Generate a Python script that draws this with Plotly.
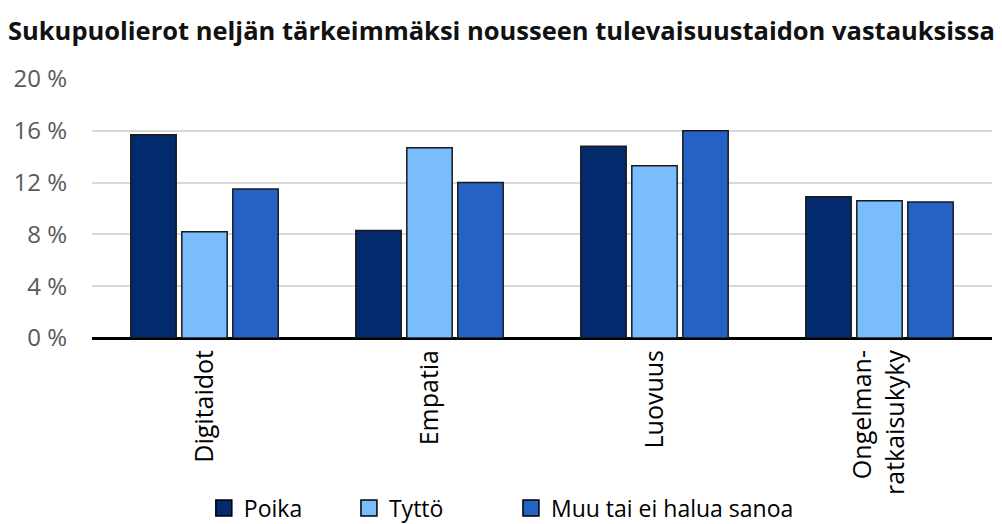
import plotly.graph_objects as go

categories = ["Digitaidot", "Empatia", "Luovuus", "Ongelman-<br>ratkaisukyky"]
poika = [15.7, 8.3, 14.8, 10.9]
tytto = [8.2, 14.7, 13.3, 10.6]
muu = [11.5, 12.0, 16.0, 10.5]
series_names = ["Poika", "Tyttö", "Muu tai ei halua sanoa"]
colors = ["#022a6c", "#79bdfd", "#2662c4"]
tick_vals = [0, 4, 8, 12, 16, 20]
tick_text = ["0 %", "4 %", "8 %", "12 %", "16 %", "20 %"]

FONT = "Open Sans"
legend_ids = ["legend", "legend2", "legend3"]
legend_x = [0.197, 0.343, 0.506]

fig = go.Figure()
for name, vals, col in zip(series_names, [poika, tytto, muu], colors):
    fig.add_trace(go.Bar(
        x=categories, y=vals, name=name, showlegend=False,
        marker=dict(color=col, line=dict(color="#1a1a1a", width=1.5)),
    ))
for name, col, lid in zip(series_names, colors, legend_ids):
    fig.add_trace(go.Scatter(
        x=[None], y=[None], name=name, mode="markers", legend=lid,
        marker=dict(symbol="square", size=16, color=col, line=dict(color="#000000", width=1.5)),
    ))

legend_common = dict(
    orientation="h", xref="container", yref="container",
    y=0.031, yanchor="middle", xanchor="left",
    font=dict(family=FONT, size=23, color="#000000"),
    bgcolor="rgba(0,0,0,0)", itemsizing="trace",
)

fig.update_layout(
    width=994, height=516,
    paper_bgcolor="white", plot_bgcolor="white",
    margin=dict(l=84, r=10, t=71, b=186),
    barmode="group", bargap=0.32, bargroupgap=0.11,
    title=dict(
        text="<b>Sukupuolierot neljän tärkeimmäksi nousseen tulevaisuustaidon vastauksissa</b>",
        x=0.0, xanchor="left", y=0.955, yanchor="middle",
        font=dict(family=FONT, size=25.5, color="#111111"),
    ),
    font=dict(family=FONT),
    showlegend=True,
    legend=dict(x=legend_x[0], **legend_common),
    legend2=dict(x=legend_x[1], **legend_common),
    legend3=dict(x=legend_x[2], **legend_common),
    xaxis=dict(
        tickangle=-90, tickfont=dict(family=FONT, size=25, color="#000000"),
        showline=False, ticks="", showgrid=False, automargin=False,
        ticklabelstandoff=6,
    ),
    yaxis=dict(
        range=[0, 20], tickvals=tick_vals, ticktext=tick_text,
        tickfont=dict(family=FONT, size=24, color="#595959"),
        showgrid=True, gridcolor="#d9d9d9", gridwidth=1.5,
        zeroline=True, zerolinecolor="#000000", zerolinewidth=3,
        showline=False, ticks="", ticklabelstandoff=24, automargin=False,
    ),
)

fig.write_html("out.html")
